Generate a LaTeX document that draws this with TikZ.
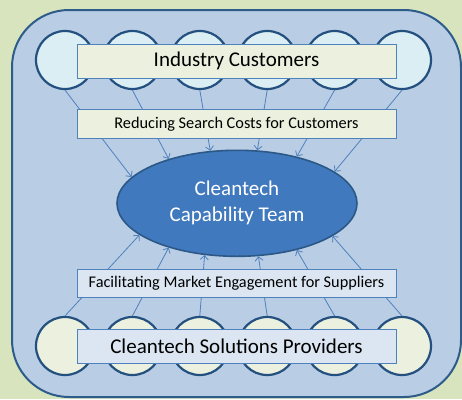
\documentclass[tikz,border=0pt]{standalone}
\usepackage{fontspec}
\setmainfont{Carlito}
\usetikzlibrary{arrows.meta,shapes.geometric}
\definecolor{bggreen}{HTML}{D7E4BD}
\definecolor{panel}{HTML}{B9CDE5}
\definecolor{panelline}{HTML}{2E5C8A}
\definecolor{circline}{HTML}{24507F}
\definecolor{cyanfill}{HTML}{DBEEF4}
\definecolor{greenfill}{HTML}{EBF1DE}
\definecolor{bluefill}{HTML}{DCE6F2}
\definecolor{boxline}{HTML}{4F81BD}
\definecolor{ellfill}{HTML}{4079BD}
\definecolor{ellline}{HTML}{2C5887}
\definecolor{arrcol}{HTML}{4F81BD}
\tikzset{
  circbase/.style={circle, draw=circline, line width=2.2pt, minimum size=58pt, inner sep=0pt},
  topcirc/.style={circbase, fill=cyanfill},
  botcirc/.style={circbase, fill=greenfill},
  boxbase/.style={rectangle, draw=boxline, line width=0.9pt, minimum width=319pt, inner sep=0pt, text=black},
  bigbox/.style={boxbase, minimum height=34pt, font=\fontsize{21}{25}\selectfont},
  smallbox/.style={boxbase, minimum height=28.5pt, font=\fontsize{16.3}{19}\selectfont},
  arr/.style={draw=arrcol, line width=0.8pt, -{Straight Barb[length=4pt,width=8pt]}},
  core/.style={ellipse, draw=ellline, line width=1.6pt, fill=ellfill, minimum width=240pt, minimum height=106pt, inner sep=0pt, text=white, align=center, font=\fontsize{21}{26}\selectfont}
}
\begin{document}
\begin{tikzpicture}[x=1pt,y=-1pt]
\useasboundingbox (0,0) rectangle (462,399);
\fill[bggreen] (0,0) rectangle (462,399);
\draw[draw=panelline, fill=panel, line width=2pt, rounded corners=57pt] (12,10) rectangle (461,397);
% circles
\foreach \i [evaluate=\i as \xx using 65+67.4*(\i-1)] in {1,...,6} {
  \node[topcirc] (t\i) at (\xx,60) {};
  \node[botcirc] (b\i) at (\xx,346) {};
}
% core
\node[core] (e) at (237,203.3) {Cleantech\\Capability Team};
% arrows
\draw[arr] (t1.south) -- (e.166);
\draw[arr] (t2.south) -- (e.147.6);
\draw[arr] (t3.south) -- (e.117);
\draw[arr] (t4.south) -- (e.69);
\draw[arr] (t5.south) -- (e.38);
\draw[arr] (t6.south) -- (e.18.4);
\draw[arr] (b1.north) -- (e.198.8);
\draw[arr] (b2.north) -- (e.213);
\draw[arr] (b3.north) -- (e.238);
\draw[arr] (b4.north) -- (e.292);
\draw[arr] (b5.north) -- (e.322);
\draw[arr] (b6.north) -- (e.341);
% boxes
\node[bigbox, fill=greenfill] (ic) at (236.5,61) {Industry Customers};
\node[smallbox, fill=greenfill] (rs) at (236.5,124) {Reducing Search Costs for Customers};
\node[smallbox, fill=bluefill] (fm) at (236.5,283.5) {Facilitating Market Engagement for Suppliers};
\node[bigbox, fill=bluefill] (cs) at (236.5,346) {Cleantech Solutions Providers};
\end{tikzpicture}
\end{document}
